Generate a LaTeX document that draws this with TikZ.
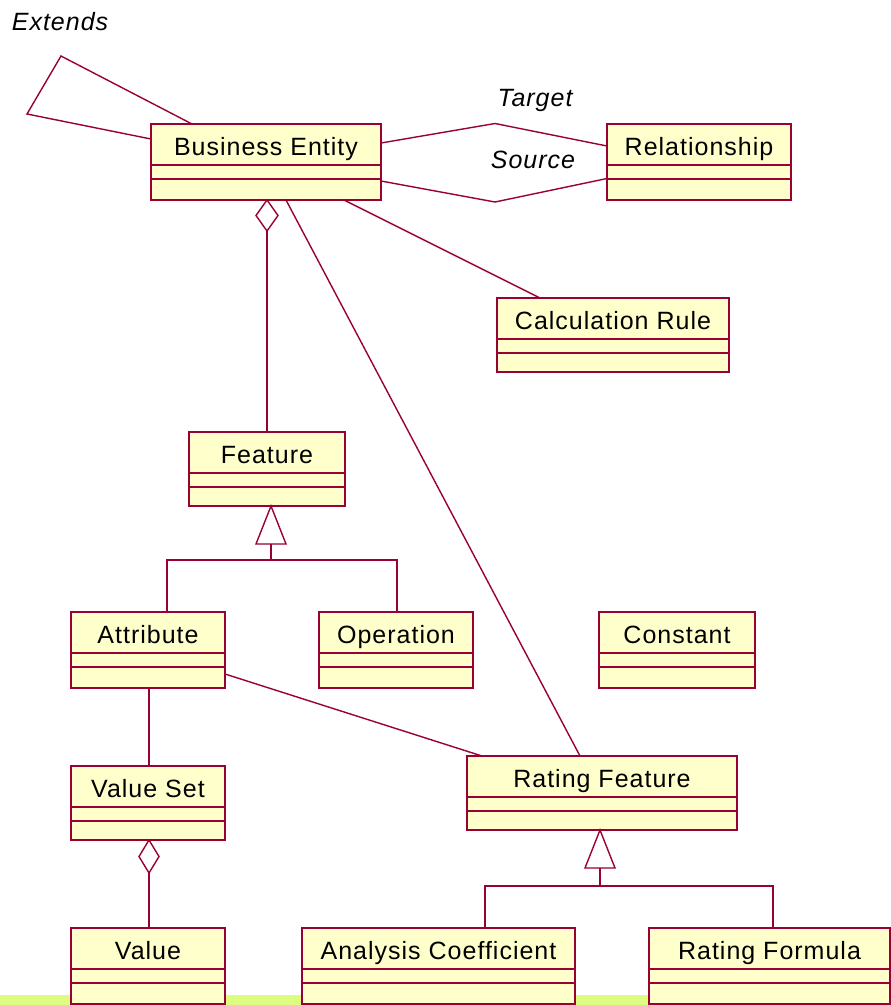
\documentclass[tikz,border=0pt]{standalone}
\usepackage{fontspec}
\usetikzlibrary{calc}
\newfontfamily\umlfont{Liberation Sans}[LetterSpace=4]

\definecolor{umlred}{RGB}{153,0,51}
\definecolor{umlfill}{RGB}{255,255,204}
\definecolor{bandgreen}{RGB}{221,252,128}

\tikzset{
  classbox/.style={draw=umlred, fill=umlfill, line width=1.9pt, rectangle,
    inner sep=0pt, outer sep=0pt, anchor=north west},
  classline/.style={draw=umlred, line width=1.9pt},
  classname/.style={anchor=base, inner sep=0pt, font=\umlfont\fontsize{25}{30}\selectfont},
  rolename/.style={anchor=base, inner sep=0pt, font=\umlfont\itshape\fontsize{25}{30}\selectfont},
  assoc/.style={draw=umlred, line width=1.4pt, line join=miter},
  hollow/.style={assoc, fill=white},
}

% class box: name, left, top, right, bottom, title
\newcommand{\umlclass}[6]{%
  \node[classbox, minimum width={(#4)-(#2)}, minimum height={(#5)-(#3)}] (#1) at (#2,#3) {};
  \draw[classline] ($(#1.north west)+(0,41)$) -- ($(#1.north east)+(0,41)$);
  \draw[classline] ($(#1.north west)+(0,55)$) -- ($(#1.north east)+(0,55)$);
  \node[classname] (#1-name) at ($(#1.north)+(0,31.5)$) {#6};
}

\begin{document}
\begin{tikzpicture}[x=1pt, y=-1pt]
\useasboundingbox (0,0) rectangle (891,1005);

% ground strip along the lower edge
\fill[bandgreen] (0,995) rectangle (891,1005);

% classes
\umlclass{be}{151}{124}{381}{200}{Business Entity}
\umlclass{rel}{607}{124}{791}{200}{Relationship}
\umlclass{calc}{497}{298}{729}{372}{Calculation Rule}
\umlclass{feat}{189}{432}{345}{506}{Feature}
\umlclass{attr}{71}{612}{225}{688}{Attribute}
\umlclass{oper}{319}{612}{473}{688}{Operation}
\umlclass{const}{599}{612}{755}{688}{Constant}
\umlclass{vset}{71}{766}{225}{840}{Value Set}
\umlclass{rf}{467}{756}{737}{830}{Rating Feature}
\umlclass{val}{71}{928}{225}{1004}{Value}
\umlclass{ac}{302}{928}{575}{1004}{Analysis Coefficient}
\umlclass{rform}{649}{928}{890}{1004}{Rating Formula}

% self association "Extends"
\coordinate (ext1) at (61,56);
\coordinate (ext2) at (27,114);
\draw[assoc] ($(be.north west)+(41,0)$) -- (ext1) -- (ext2) -- ($(be.north west)+(0,15)$);
\node[rolename] (extends) at (60,30) {Extends};

% Target / Source associations to Relationship
\coordinate (tmid) at (495,123.5);
\coordinate (smid) at (495,202);
\draw[assoc] ($(be.north east)+(0,19)$) -- (tmid) -- ($(rel.north west)+(0,22)$);
\draw[assoc] ($(be.north east)+(0,57)$) -- (smid) -- ($(rel.north west)+(0,54.5)$);
\node[rolename] (target) at (535,106) {Target};
\node[rolename] (source) at (533,168) {Source};

% Business Entity <>-- Feature
\coordinate (agg1) at ($(be.south west)+(116,0)$);
\draw[hollow] (agg1) -- ++(11,15.5) -- ++(-11,15.5) coordinate (agg1b) -- ++(-11,-15.5) -- cycle;
\draw[assoc] (agg1b) -- (feat.north);

% Business Entity -- Calculation Rule, Rating Feature
\draw[assoc] ($(be.south west)+(193,0)$) -- ($(calc.north west)+(43,0)$);
\draw[assoc] ($(be.south west)+(135,0)$) -- ($(rf.north west)+(113,0)$);

% Feature generalisation
\coordinate (g1) at ($(feat.south west)+(82,0)$);
\draw[hollow] (g1) -- ++(15,38) -- ++(-30,0) -- cycle;
\draw[assoc] ($(g1)+(0,38)$) -- ++(0,16) coordinate (g1bar);
\draw[assoc] ($(attr.north west)+(96,0)$) |- (g1bar) -| ($(oper.north west)+(78,0)$);

% Attribute -- Value Set, Rating Feature
\draw[assoc] ($(attr.south west)+(78,0)$) -- ($(vset.north west)+(78,0)$);
\draw[assoc] ($(attr.north east)+(0,62)$) -- ($(rf.north west)+(15,0)$);

% Value Set <>-- Value
\coordinate (agg2) at ($(vset.south west)+(78,0)$);
\draw[hollow] (agg2) -- ++(10,16.5) -- ++(-10,16.5) coordinate (agg2b) -- ++(-10,-16.5) -- cycle;
\draw[assoc] (agg2b) -- ($(val.north west)+(78,0)$);

% Rating Feature generalisation
\coordinate (g2) at ($(rf.south west)+(133,0)$);
\draw[hollow] (g2) -- ++(15,38) -- ++(-30,0) -- cycle;
\draw[assoc] ($(g2)+(0,38)$) -- ++(0,18) coordinate (g2bar);
\draw[assoc] ($(ac.north west)+(183,0)$) |- (g2bar) -| ($(rform.north west)+(124,0)$);
\end{tikzpicture}
\end{document}
